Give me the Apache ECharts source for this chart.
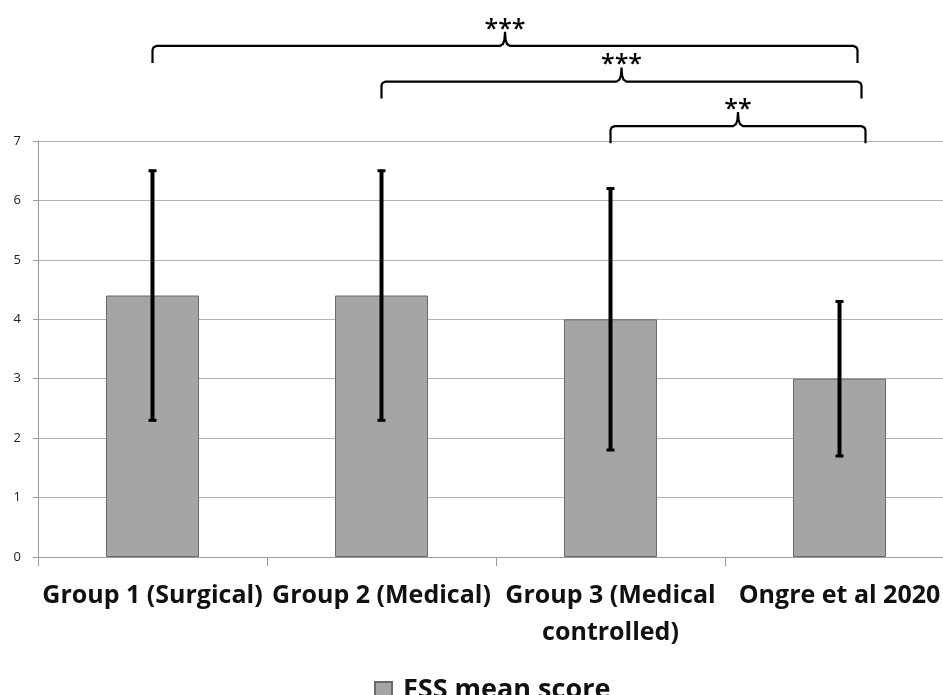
<!DOCTYPE html>
<html>
<head>
<meta charset="utf-8">
<script src="https://cdn.jsdelivr.net/npm/echarts@6/dist/echarts.min.js"></script>
<style>
html,body{margin:0;padding:0;background:#fff;}
#chart{width:943px;height:695px;}
</style>
</head>
<body>
<div id="chart"></div>
<script>
// ---- data ----
const categories = ['Group 1 (Surgical)', 'Group 2 (Medical)', 'Group 3 (Medical\ncontrolled)', 'Ongre et al 2020'];
const seriesName = 'FSS mean score';
const means = [4.4, 4.4, 4.0, 3.0];
const errLow = [2.3, 2.3, 1.8, 1.7];
const errHigh = [6.5, 6.5, 6.2, 4.3];
const yMin = 0, yMax = 7, yInterval = 1;
// significance comparisons
const compFrom = [0, 1, 2];
const compTo = [3, 3, 3];
const compLabel = ['***', '***', '**'];
const compLevel = [8.6, 8.0, 7.25];

// ---- styles ----
const bracketEndNudge = [18, 22, 26];
const FONT = '"Open Sans", sans-serif';

const chart = echarts.init(document.getElementById('chart'), null, {renderer: 'canvas'});

const errData = categories.map((c, i) => [i, errLow[i], errHigh[i]]);
const compData = compFrom.map((f, i) => [f, compTo[i], compLevel[i], i]);

chart.setOption({
  animation: false,
  backgroundColor: '#fff',
  grid: {left: 38, width: 916, top: 141, height: 416, containLabel: false, outerBoundsMode: 'none'},
  legend: {
    data: [{name: seriesName, icon: 'rect'}],
    top: 672, left: 369,
    itemWidth: 17, itemHeight: 17,
    itemGap: 6,
    textStyle: {fontFamily: FONT, fontSize: 27, fontWeight: 700, color: '#111', lineHeight: 27, padding: [0, 0, 0, 6]}
  },
  xAxis: {
    type: 'category',
    data: categories,
    boundaryGap: true,
    axisLine: {lineStyle: {color: '#9a9a9a', width: 1}},
    axisTick: {show: true, length: 9, lineStyle: {color: '#9a9a9a'}},
    axisLabel: {
      interval: 0, margin: 20,
      fontFamily: FONT, fontSize: 25, fontWeight: 700, color: '#111',
      lineHeight: 37
    }
  },
  yAxis: {
    type: 'value',
    min: yMin, max: yMax, interval: yInterval,
    axisLine: {show: true, lineStyle: {color: '#9a9a9a'}},
    axisTick: {show: true, length: 5, lineStyle: {color: '#9a9a9a'}},
    axisLabel: {fontFamily: FONT, fontSize: 13, color: '#222', margin: 17},
    splitLine: {lineStyle: {color: '#b3b3b3', width: 1}}
  },
  series: [
    {
      name: seriesName,
      type: 'bar',
      data: means,
      barWidth: 93,
      itemStyle: {color: '#a5a5a5', borderColor: '#6a6a6a', borderWidth: 1}
    },
    {
      type: 'custom',
      name: 'err',
      data: errData,
      z: 5,
      renderItem: function (params, api) {
        const x = api.value(0);
        const lo = api.coord([x, api.value(1)]);
        const hi = api.coord([x, api.value(2)]);
        const cap = 4;
        const st = {stroke: '#000', lineWidth: 4};
        return {
          type: 'group',
          children: [
            {type: 'line', shape: {x1: lo[0], y1: lo[1], x2: hi[0], y2: hi[1]}, style: st},
            {type: 'line', shape: {x1: hi[0] - cap, y1: hi[1], x2: hi[0] + cap, y2: hi[1]}, style: {stroke: '#000', lineWidth: 3}},
            {type: 'line', shape: {x1: lo[0] - cap, y1: lo[1], x2: lo[0] + cap, y2: lo[1]}, style: {stroke: '#000', lineWidth: 3}}
          ]
        };
      }
    },
    {
      type: 'custom',
      name: 'sig',
      data: compData,
      clip: false,
      z: 6,
      renderItem: function (params, api) {
        const k = api.value(3);
        const L = api.coord([api.value(0), api.value(2)]);
        const Rr = api.coord([api.value(1), api.value(2)]);
        const hy = L[1];
        const lx = L[0];
        const rx = Rr[0] + bracketEndNudge[k];
        const mx = (lx + rx) / 2;
        const drop = 17, peak = 14;
        const pts = [
          [lx, hy + drop], [lx, hy + 4], [lx + 1, hy + 1.5], [lx + 4, hy],
          [mx - 5, hy], [mx - 2, hy - 2], [mx - 0.6, hy - 6], [mx, hy - peak],
          [mx + 0.6, hy - 6], [mx + 2, hy - 2], [mx + 5, hy],
          [rx - 4, hy], [rx - 1, hy + 1.5], [rx, hy + 4], [rx, hy + drop]
        ];
        return {
          type: 'group',
          children: [
            {type: 'polyline', shape: {points: pts}, style: {stroke: '#000', lineWidth: 2.2, fill: null}},
            {type: 'text', x: mx, y: hy - peak - 15,
             style: {text: compLabel[k], fontFamily: FONT, fontSize: 25, fontWeight: 600, fill: '#000', align: 'center', verticalAlign: 'top'}}
          ]
        };
      }
    }
  ]
});
</script>
</body>
</html>
